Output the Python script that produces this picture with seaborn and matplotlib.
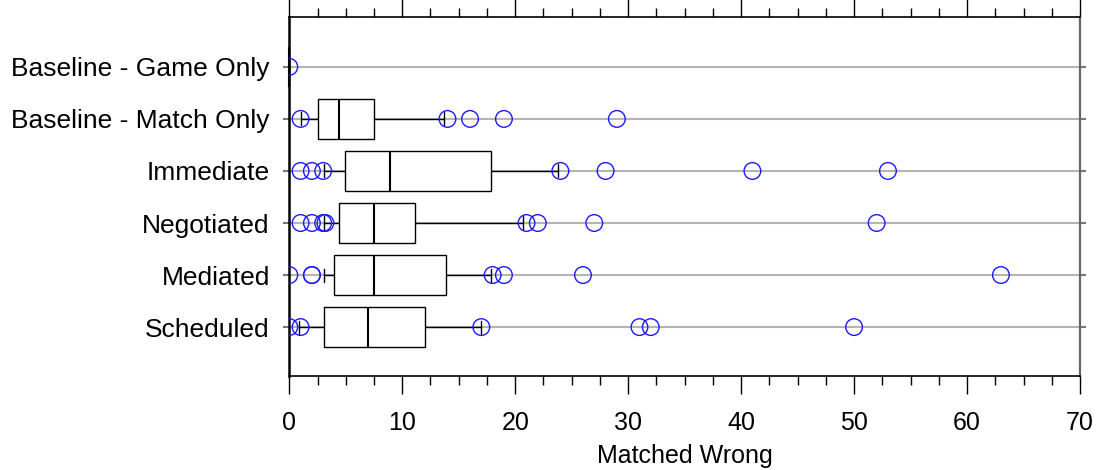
import numpy as np
import pandas as pd
import matplotlib
matplotlib.use("Agg")
import matplotlib.pyplot as plt
from matplotlib.ticker import MultipleLocator
import seaborn as sns

# ---------------- data ----------------
categories = ["Baseline - Game Only", "Baseline - Match Only", "Immediate",
              "Negotiated", "Mediated", "Scheduled"]

game_only = [0, 0, 0, 0, 0, 0, 0, 0, 0, 0, 0]
match_only = [1, 1, 1, 1, 1, 2, 2, 2, 2, 2, 2.5, 3, 3, 3, 3, 4, 4, 4, 4, 4, 4.4,
              5, 5, 5, 6, 6, 6, 7, 7, 7, 7.5, 8, 9, 10, 11, 12, 13.7, 14, 16, 19, 29]
immediate = [1, 2, 3, 3, 3.1, 4, 4, 4, 4, 4, 4.9, 5, 5, 6, 6, 7, 7, 8, 8, 8, 8.9,
             9, 10, 11, 12, 13, 14, 15, 16, 17, 17.9, 19, 20, 21, 22, 23, 23.8, 24, 28, 41, 53]
negotiated = [1, 2, 3, 3, 3.1, 4, 4, 4, 4, 4, 4.4, 5, 5, 5, 6, 6, 6, 7, 7, 7, 7.5,
              8, 8, 8, 9, 9, 9, 10, 10, 10, 11.1, 12, 13, 15, 17, 19, 20.7, 21, 22, 27, 52]
mediated = [0, 2, 2, 3.1, 3.1, 4, 4, 4, 4, 4, 4, 5, 5, 5, 6, 6, 6, 7, 7, 7, 7.5,
            8, 8, 9, 9, 10, 10, 11, 12, 13, 13.9, 14, 15, 15, 16, 17, 17.9, 18, 19, 26, 63]
scheduled = [0, 0.9, 0.9, 0.9, 0.9, 1, 2, 2, 2, 3, 3.1, 4, 4, 4, 5, 5, 5, 6, 6, 6, 7,
             7, 8, 8, 9, 9, 10, 10, 11, 11, 12, 13, 14, 15, 16, 16, 17, 17, 31, 32, 50]

# points drawn as open circles (outside the 10th/90th percentiles)
game_only_out = [0]
match_only_out = [1, 14, 16, 19, 29]
immediate_out = [1, 2, 3, 24, 28, 41, 53]
negotiated_out = [1, 2, 3, 3.2, 21, 22, 27, 52]
mediated_out = [0, 2, 2, 18, 19, 26, 63]
scheduled_out = [0, 1, 17, 31, 32, 50]

x_ticks = [0, 10, 20, 30, 40, 50, 60, 70]
x_label = "Matched Wrong"

groups = [game_only, match_only, immediate, negotiated, mediated, scheduled]
outs = [game_only_out, match_only_out, immediate_out, negotiated_out,
        mediated_out, scheduled_out]

df = pd.DataFrame({
    "condition": np.repeat(categories, [len(g) for g in groups]),
    "value": np.concatenate([np.asarray(g, dtype=float) for g in groups]),
})
out_df = pd.DataFrame({
    "condition": np.repeat(categories, [len(o) for o in outs]),
    "value": np.concatenate([np.asarray(o, dtype=float) for o in outs]),
})

# ---------------- style ----------------
sns.set_style("ticks")
plt.rcParams["font.family"] = ["Liberation Sans", "DejaVu Sans"]
plt.rcParams["text.color"] = "black"
plt.rcParams["axes.labelcolor"] = "black"
plt.rcParams["xtick.color"] = "black"
plt.rcParams["ytick.color"] = "black"

fig, ax = plt.subplots(figsize=(11, 4.7), dpi=100)
fig.subplots_adjust(left=0.263, right=0.9818, top=0.964, bottom=0.2)

sns.boxplot(data=df, x="value", y="condition", order=categories, orient="h",
            whis=(10, 90), width=0.77, showfliers=False, color="white",
            linecolor="black", linewidth=1.0,
            medianprops=dict(color="black", linewidth=1.5),
            capwidths=0.25, ax=ax)

# let the degenerate box at x = 0 show over the axis line
for p in ax.patches:
    p.set_clip_on(False)
    p.set_zorder(3)
for ln in ax.lines:
    ln.set_clip_on(False)
    ln.set_zorder(3.5)

sns.stripplot(data=out_df, x="value", y="condition", order=categories, orient="h",
              jitter=False, size=12, marker="o", facecolors="none",
              edgecolor="#1a1aff", linewidth=1.0, zorder=4, ax=ax)

ax.set_xlim(x_ticks[0], x_ticks[-1])
ax.set_ylim(5.94, -0.96)

ax.set_xticks(x_ticks)
ax.xaxis.set_minor_locator(MultipleLocator(2.5))
ax.tick_params(axis="x", which="both", direction="out", top=True, bottom=True,
               labeltop=False, color="black", labelcolor="black", width=1.0,
               labelsize=18, pad=12)
ax.tick_params(axis="x", which="major", length=13)
ax.tick_params(axis="x", which="minor", length=6.5)
ax.tick_params(axis="y", which="major", direction="out", left=True, right=True,
               length=4, width=1.5, color="#777777", labelcolor="black",
               labelsize=19, pad=10)

ax.yaxis.grid(True, color="#b4b4b4", linewidth=1.5)
ax.xaxis.grid(False)
ax.set_axisbelow(True)

for side, sp in ax.spines.items():
    sp.set_visible(True)
    sp.set_color("black")
    sp.set_linewidth(1.2)
ax.spines["left"].set_linewidth(1.8)
ax.spines["right"].set_color("#666666")
ax.spines["right"].set_linewidth(1.6)

ax.set_xlabel(x_label, fontsize=18, labelpad=7, color="black")
ax.set_ylabel("")

fig.savefig("out.png", dpi=100)
